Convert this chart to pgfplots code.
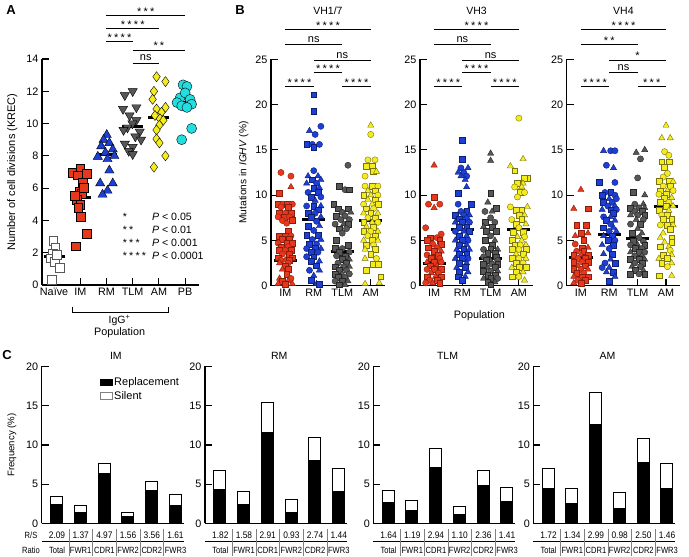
\documentclass[border=0pt]{standalone}
\usepackage{pgfplots}
\pgfplotsset{compat=1.18}
\usepackage{fontspec}
\setmainfont{Liberation Sans}
\newfontfamily\narrowA[FakeStretch=0.88]{Liberation Sans}
\newfontfamily\narrowB[FakeStretch=0.84]{Liberation Sans}
\definecolor{cRed}{HTML}{E8381C}
\definecolor{cRedD}{HTML}{8A1E0E}
\definecolor{cBlue}{HTML}{1E3FD6}
\definecolor{cBlueD}{HTML}{0E1F70}
\definecolor{cGray}{HTML}{575757}
\definecolor{cGrayD}{HTML}{262626}
\definecolor{cYel}{HTML}{F5EC1E}
\definecolor{cYelD}{HTML}{7A7410}
\definecolor{cCyan}{HTML}{22DEE0}
\newcommand\sg{\hspace{2.2pt}}
\newcommand\stars[1]{\ifcase#1\or *\or *\sg*\or *\sg*\sg*\or *\sg*\sg*\sg*\fi}
\pgfplotsset{
  base/.style={scale only axis, axis lines*=left, axis line style={line width=1.1pt,-},
    major tick style={line width=1.1pt,black}, tick align=inside, major tick length=7pt,
    clip=false, tick label style={font=\fontsize{10.8}{12}\selectfont},
    label style={font=\fontsize{10.5}{12}\selectfont},
    /pgf/number format/assume math mode=true},
  grp/.style n args={2}{only marks, scatter, scatter src=explicit symbolic,
    scatter/classes={
      s={mark=square*, mark size=2.9pt, fill=#1, draw=#2, line width=0.4pt},
      c={mark=*, mark size=3.1pt, fill=#1, draw=#2, line width=0.4pt},
      t={mark=triangle*, mark size=3.6pt, fill=#1, draw=#2, line width=0.4pt}}},
  med/.style={black, line width=3pt, no marks},
}
% significance line: from, to, y, text, yshift
\newcommand\sigl[5]{\draw[line width=0.9pt] (axis cs:#1,#3) -- (axis cs:#2,#3);
  \node[anchor=base, inner sep=0pt, font=\fontsize{11}{12}\selectfont, yshift=#5] at (axis cs:{(#1+#2)/2},#3) {#4};}
\newcommand\pleg[3]{%
  \node[anchor=west, inner sep=0pt, font=\fontsize{10.6}{12}\selectfont] at (axis cs:2.62,#1) {\stars#2};
  \node[anchor=west, inner sep=0pt, font=\fontsize{10.6}{12}\selectfont] at (axis cs:3.73,#1) {\textit{P} < #3};}
\newcommand\rstable[7]{%
  \draw[line width=0.6pt] (#1pt,15.3pt) -- ++(142pt,0pt);
  \foreach \v [count=\k from 0] in {#2,#3,#4,#5,#6,#7} {
    \node[font=\narrowA\fontsize{9.5}{10}\selectfont, inner sep=0pt] at ({#1pt+15.3pt+\k*23.7pt},21.7pt) {\v};}
  \foreach \v [count=\k from 0] in {Total,FWR1,CDR1,FWR2,CDR2,FWR3} {
    \node[font=\narrowB\fontsize{9}{10}\selectfont, inner sep=0pt] at ({#1pt+15.3pt+\k*23.7pt},7pt) {\v};}
  \foreach \k in {0,...,4} {
    \draw[gray, line width=0.5pt] ({#1pt+15.3pt+(\k+0.5)*23.7pt},1pt) -- ++(0pt,27pt);}
}
\begin{document}
\begin{tikzpicture}
\path[use as bounding box] (0pt,0pt) rectangle (689pt,557pt);
\node[font=\bfseries\fontsize{13}{14}\selectfont] at (11pt,547pt) {A};
\node[font=\bfseries\fontsize{13}{14}\selectfont] at (240pt,547pt) {B};
\node[font=\bfseries\fontsize{13}{14}\selectfont] at (7pt,202pt) {C};

%%%%%%%%%%%%%%%% PANEL A
\begin{axis}[base, at={(42pt,272pt)}, anchor=south west, width=157pt, height=226pt,
  xmin=-0.46, xmax=5.53, ymin=0, ymax=14, ytick={0,2,...,14}, xtick={0,...,5},
  xticklabels={Naïve,IM,RM,TLM,AM,PB},
  ylabel={Number of cell divisions (KREC)},
  ylabel style={at={(axis description cs:-0.19,0.5)}, anchor=center, font=\fontsize{11}{12}\selectfont}]
\addplot[only marks, mark=square*, mark size=4.4pt, mark options={fill=white, draw=gray!70!black, line width=0.6pt}]
  coordinates {(-0.03,2.75)(0.05,2.3)(-0.05,1.95)(-0.12,1.65)(0.02,1.45)(0.22,1.05)(-0.1,0.3)(0.1,1.85)};
\addplot[only marks, mark=square*, mark size=4.4pt, mark options={fill=cRed, draw=black, line width=0.4pt}]
  coordinates {(0.7,6.95)(1.0,7.2)(1.25,6.9)(0.9,6.8)(1.08,6.35)(0.97,5.8)(1.06,5.65)(0.85,5.3)(1.0,4.95)(0.92,4.8)(1.02,4.25)(1.25,3.2)(0.82,2.4)(1.12,6.05)(0.8,5.55)};
\addplot[only marks, mark=triangle*, mark size=5.3pt, mark options={fill=cBlue, draw=black, line width=0.4pt}]
  coordinates {(2.01,9.3)(1.89,9.0)(2.11,8.8)(1.8,8.6)(2.24,8.4)(1.96,8.2)(1.67,7.95)(2.3,8.0)(2.04,7.8)(2.11,7.1)(1.76,6.3)(2.24,6.3)(2.04,5.85)(1.85,5.6)};
\addplot[only marks, mark=triangle*, mark size=5.3pt, mark options={fill=cGray, draw=black, line width=0.4pt, rotate=180}]
  coordinates {(3.0,12.0)(2.7,11.75)(3.14,11.0)(2.63,10.9)(2.88,10.5)(3.14,10.2)(2.99,10.0)(2.8,9.75)(3.27,9.5)(2.65,9.6)(3.1,9.2)(3.32,9.0)(2.7,8.75)(3.0,8.55)(2.85,8.3)(3.0,8.1)};
\addplot[only marks, mark=diamond*, mark size=5pt, mark options={fill=cYel, draw=black, line width=0.4pt}]
  coordinates {(3.91,12.9)(4.25,12.6)(3.81,12.0)(3.76,11.5)(4.25,11.0)(3.91,10.9)(4.1,10.7)(3.85,10.5)(4.04,10.3)(4.17,10.2)(4.02,9.9)(3.91,9.6)(3.91,9.05)(4.02,8.8)(4.25,8.0)(3.81,7.3)};
\addplot[only marks, mark=*, mark size=5pt, mark options={fill=cCyan, draw=black, line width=0.4pt}]
  coordinates {(4.92,12.4)(5.07,12.3)(4.81,11.6)(5.0,11.9)(5.19,11.5)(4.69,11.3)(4.87,11.1)(5.25,11.2)(5.07,11.0)(5.25,9.7)(4.87,9.0)};
\addplot[med] coordinates {(-0.4,1.75)(0.4,1.75)};
\addplot[med] coordinates {(0.6,5.4)(1.4,5.4)};
\addplot[med] coordinates {(1.6,8.1)(2.4,8.1)};
\addplot[med] coordinates {(2.6,9.8)(3.4,9.8)};
\addplot[med] coordinates {(3.6,10.4)(4.4,10.4)};
\addplot[med] coordinates {(4.6,11.3)(5.4,11.3)};
\sigl{2}{5}{16.69}{\stars3}{0.3pt}
\sigl{2}{4}{15.9}{\stars4}{0.3pt}
\sigl{2}{3}{15.07}{\stars4}{0.3pt}
\sigl{3}{5}{14.56}{\stars2}{0.3pt}
\sigl{3}{4}{13.74}{ns}{2.2pt}
\draw[line width=0.9pt] (axis cs:0.71,-1.34) -- (axis cs:0.71,-1.72) -- (axis cs:4.36,-1.72) -- (axis cs:4.36,-1.34);
\node[font=\fontsize{10.5}{11}\selectfont] at (axis cs:2.5,-2.2) {IgG\textsuperscript{+}};
\node[font=\fontsize{10.8}{11}\selectfont] at (axis cs:2.5,-2.95) {Population};
\pleg{4.2}{1}{0.05}
\pleg{3.4}{2}{0.01}
\pleg{2.6}{3}{0.001}
\pleg{1.8}{4}{0.0001}
\end{axis}

%%%%%%%%%%%%%%%% PANEL B: VH1/7
\begin{axis}[base, at={(271pt,271.3pt)}, anchor=south west, width=114pt, height=226.4pt,
  xmin=-0.5, xmax=3.5, ymin=0, ymax=25, ytick={0,5,...,25}, xtick={0,...,3},
  xticklabels={IM,RM,TLM,AM},
  ylabel={Mutations in \textit{IGHV} (\%)},
  ylabel style={at={(axis description cs:-0.24,0.5)}, anchor=center, font=\fontsize{10.2}{12}\selectfont}]
\addplot[grp={cRed}{cRedD}] table[x expr=\thisrow{d}+0, y=v, meta=m, row sep=\\] {
d v m\\ -0.15 12.5 c\\ 0.2 12.1 c\\ 0.2 10.9 t\\ -0.2 10.2 s\\ -0.25 9.0 s\\ -0.08 9.0 c\\ 0.08 9.0 s\\ 0.25 9.0 c\\
-0.15 8.7 c\\ 0.1 8.7 s\\ -0.2 8.0 s\\ 0.0 8.0 c\\ 0.2 8.0 s\\ -0.25 7.6 c\\ -0.05 7.6 s\\ 0.15 7.6 c\\ 0.25 7.2 s\\ -0.1 7.2 c\\
0.05 6.9 c\\ 0.1 6.0 s\\ -0.2 5.5 s\\ 0.0 5.5 s\\ 0.2 5.5 c\\ -0.1 5.1 s\\ 0.15 5.1 s\\ -0.25 4.7 c\\ 0.05 4.7 s\\ 0.25 4.7 s\\
-0.15 4.3 s\\ 0.1 4.3 c\\ -0.2 3.9 s\\ 0.0 3.9 c\\ 0.2 3.9 s\\ -0.1 3.5 c\\ 0.15 3.5 s\\ -0.25 3.1 s\\ 0.25 3.1 s\\ -0.15 2.8 c\\
0.0 2.8 t\\ 0.15 2.8 s\\ -0.2 2.5 t\\ 0.1 2.5 c\\ 0.0 2.2 s\\ -0.1 1.8 t\\ 0.1 1.8 s\\ 0.05 1.3 s\\ -0.2 0.8 t\\ 0.2 0.8 c\\
-0.1 0.5 s\\ 0.1 0.5 t\\ -0.25 0.2 t\\ 0.0 0.2 s\\ 0.25 0.2 t\\
};
\addplot[grp={cBlue}{cBlueD}] table[x expr=\thisrow{d}+1, y=v, meta=m, row sep=\\] {
d v m\\ 0.0 21.1 s\\ 0.0 19.3 s\\ 0.25 17.6 c\\ -0.15 17.1 t\\ 0.05 16.7 c\\ -0.25 15.6 s\\ -0.05 15.6 c\\ 0.2 15.6 c\\ 0.0 15.3 s\\
0.0 12.7 c\\ -0.2 12.1 t\\ 0.15 12.1 t\\ -0.05 11.7 s\\ 0.25 11.7 t\\ -0.25 11.3 t\\ 0.1 11.3 c\\ 0.0 10.8 s\\ 0.2 10.8 t\\
-0.2 10.3 c\\ 0.15 10.3 s\\ -0.1 9.8 s\\ 0.25 9.8 c\\ 0.05 9.4 t\\ -0.25 8.8 c\\ 0.0 8.8 s\\ 0.25 8.8 t\\ 0.15 8.4 s\\
-0.2 8.0 s\\ 0.05 8.0 c\\ 0.25 7.6 t\\ -0.1 7.6 s\\ 0.1 7.1 c\\ -0.2 6.6 s\\ 0.2 6.6 t\\ 0.0 6.1 c\\ -0.25 5.6 s\\ 0.15 5.6 s\\
-0.05 5.1 c\\ 0.25 5.1 t\\ -0.15 4.6 s\\ 0.1 4.6 c\\ -0.25 4.1 c\\ 0.05 4.1 s\\ 0.25 4.1 t\\ -0.1 3.7 s\\ 0.15 3.7 c\\
0.0 3.2 s\\ -0.25 3.2 c\\ 0.2 2.7 t\\ -0.1 2.7 s\\ 0.1 2.2 s\\ -0.15 1.7 c\\ 0.2 1.7 t\\ 0.0 1.1 t\\ -0.1 0.6 s\\ 0.1 0.2 t\\ 0.2 0.2 s\\
};
\addplot[grp={cGray}{cGrayD}] table[x expr=\thisrow{d}+2, y=v, meta=m, row sep=\\] {
d v m\\ 0.2 13.3 c\\ -0.1 11.0 s\\ 0.1 10.6 c\\ 0.25 10.6 s\\ -0.3 9.0 s\\ -0.15 8.5 s\\ 0.2 8.5 s\\ 0.0 8.1 c\\ 0.3 8.1 t\\
-0.2 7.7 s\\ 0.1 7.7 c\\ 0.25 7.3 c\\ -0.05 7.3 c\\ -0.25 6.8 c\\ 0.05 6.8 t\\ 0.2 6.8 s\\ -0.1 6.3 s\\ 0.15 6.3 c\\ 0.0 5.8 c\\
-0.2 5.0 s\\ 0.2 4.5 s\\ 0.0 4.1 c\\ -0.25 4.1 s\\ 0.25 3.7 c\\ -0.1 3.7 s\\ 0.1 3.3 s\\ -0.2 3.3 c\\ 0.0 2.9 s\\ 0.25 2.9 t\\
-0.15 2.5 c\\ 0.15 2.5 s\\ -0.25 2.1 s\\ 0.05 2.1 c\\ 0.25 2.1 t\\ -0.1 1.7 s\\ 0.15 1.7 c\\ 0.0 1.3 t\\ -0.25 1.3 s\\ 0.25 1.3 c\\
-0.15 0.9 s\\ 0.1 0.9 c\\ -0.25 0.5 c\\ 0.0 0.5 s\\ 0.2 0.5 t\\ -0.1 0.1 s\\ 0.1 0.1 t\\
};
\addplot[grp={cYel}{cYelD}] table[x expr=\thisrow{d}+3, y=v, meta=m, row sep=\\] {
d v m\\ 0.0 17.7 t\\ 0.0 16.7 c\\ -0.1 13.9 c\\ 0.15 13.9 c\\ -0.15 13.2 s\\ 0.05 13.2 s\\ 0.1 12.6 s\\ 0.2 12.6 t\\ -0.2 12.1 c\\
-0.2 11.0 c\\ 0.05 11.0 s\\ 0.25 11.0 c\\ -0.1 10.5 t\\ 0.15 10.5 s\\ -0.25 10.0 s\\ 0.0 10.0 t\\ 0.25 10.0 c\\ -0.1 9.5 t\\ 0.15 9.5 s\\
-0.25 9.0 c\\ 0.05 9.0 t\\ 0.25 9.0 s\\ -0.15 8.5 s\\ 0.1 8.5 c\\ -0.25 8.0 t\\ 0.0 8.0 s\\ 0.25 8.0 t\\ -0.1 7.5 c\\ 0.15 7.5 s\\
-0.25 7.0 s\\ 0.05 7.0 t\\ 0.25 7.0 c\\ -0.15 6.5 t\\ 0.1 6.5 s\\ -0.25 6.0 s\\ 0.0 6.0 c\\ 0.25 6.0 t\\ -0.1 5.5 c\\ 0.15 5.5 s\\
-0.25 5.0 t\\ 0.05 5.0 s\\ 0.25 5.0 t\\ -0.15 4.5 s\\ 0.1 4.5 c\\ -0.2 4.0 t\\ 0.15 4.0 s\\ 0.0 3.5 s\\ -0.2 3.0 t\\ 0.2 3.0 c\\
0.1 2.4 s\\ 0.25 2.4 s\\ -0.15 1.7 s\\ 0.35 1.0 s\\ -0.2 0.2 t\\ 0.3 0.3 t\\
};
\addplot[med] coordinates {(-0.41,2.83)(0.41,2.83)};
\addplot[med] coordinates {(0.59,7.35)(1.41,7.35)};
\addplot[med] coordinates {(1.59,3.79)(2.41,3.79)};
\addplot[med] coordinates {(2.59,7.17)(3.41,7.17)};
\sigl{0}{3}{28.3}{\stars4}{0.3pt}
\sigl{0}{2}{26.6}{ns}{2.2pt}
\sigl{1}{3}{24.9}{ns}{2.2pt}
\sigl{1}{2}{23.5}{\stars4}{0.3pt}
\sigl{0}{1}{22.0}{\stars4}{0.3pt}
\sigl{2}{3}{22.0}{\stars4}{0.3pt}
\node[font=\fontsize{10.5}{12}\selectfont] at (axis cs:1.5,30.4) {VH1/7};
\end{axis}

%%%%%%%%%%%%%%%% PANEL B: VH3
\begin{axis}[base, at={(420pt,271.3pt)}, anchor=south west, width=113pt, height=226.4pt,
  xmin=-0.5, xmax=3.5, ymin=0, ymax=25, ytick={0,5,...,25}, xtick={0,...,3},
  xticklabels={IM,RM,TLM,AM}]
\addplot[grp={cRed}{cRedD}] table[x expr=\thisrow{d}+0, y=v, meta=m, row sep=\\] {
d v m\\ 0.0 13.3 t\\ 0.0 9.8 s\\ -0.2 9.0 c\\ 0.2 9.0 c\\ 0.0 8.6 t\\ -0.3 6.4 c\\ 0.25 5.7 c\\ -0.15 5.3 s\\ 0.1 5.3 c\\
-0.25 5.0 s\\ 0.2 5.0 s\\ -0.05 4.6 c\\ 0.25 4.6 s\\ -0.2 4.2 s\\ 0.1 4.2 c\\ 0.0 3.8 s\\ 0.25 3.8 t\\ -0.25 3.4 c\\ 0.15 3.4 s\\
-0.1 3.0 s\\ 0.2 3.0 c\\ -0.25 2.6 t\\ 0.0 2.6 s\\ 0.25 2.6 c\\ -0.15 2.2 s\\ 0.1 2.2 t\\ -0.25 1.8 c\\ 0.0 1.8 s\\ 0.25 1.8 s\\
-0.1 1.4 t\\ 0.15 1.4 c\\ -0.25 1.0 s\\ 0.05 1.0 t\\ 0.25 1.0 s\\ -0.15 0.6 c\\ 0.1 0.6 s\\ -0.05 0.3 t\\ 0.2 0.3 s\\ -0.3 0.3 c\\
};
\addplot[grp={cBlue}{cBlueD}] table[x expr=\thisrow{d}+1, y=v, meta=m, row sep=\\] {
d v m\\ 0.0 16.1 s\\ 0.0 14.0 s\\ -0.05 13.0 c\\ 0.2 13.0 t\\ 0.05 12.5 c\\ -0.15 12.5 t\\ 0.15 12.1 c\\ -0.05 12.1 t\\ 0.1 11.7 t\\
0.15 10.9 t\\ -0.15 10.2 s\\ -0.15 9.0 c\\ 0.3 9.0 s\\ -0.05 8.2 c\\ 0.15 8.2 s\\ -0.25 7.8 s\\ 0.05 7.8 c\\ 0.25 7.8 t\\
-0.1 7.4 s\\ 0.15 7.4 c\\ -0.25 7.0 t\\ 0.0 7.0 s\\ 0.25 7.0 c\\ -0.1 6.5 s\\ 0.15 6.5 s\\ -0.25 6.0 c\\ 0.05 6.0 t\\ 0.25 6.0 s\\
-0.1 5.5 s\\ 0.15 5.5 t\\ -0.25 5.0 t\\ 0.0 5.0 s\\ 0.2 5.0 c\\ -0.1 4.5 s\\ 0.15 4.5 t\\ -0.2 4.0 t\\ 0.05 4.0 s\\ 0.25 4.0 t\\
-0.1 3.5 s\\ 0.15 3.5 s\\ -0.25 3.0 t\\ 0.0 3.0 s\\ 0.2 3.0 c\\ -0.1 2.5 s\\ 0.15 2.5 t\\ 0.1 2.0 s\\ -0.2 2.0 t\\ 0.2 1.5 t\\
-0.1 1.5 s\\ -0.15 1.0 s\\ 0.1 1.0 t\\ 0.0 0.6 s\\
};
\addplot[grp={cGray}{cGrayD}] table[x expr=\thisrow{d}+2, y=v, meta=m, row sep=\\] {
d v m\\ 0.0 14.6 t\\ 0.0 13.8 t\\ 0.0 10.2 s\\ -0.1 9.2 t\\ 0.2 8.6 s\\ -0.2 8.2 c\\ 0.05 8.2 t\\ 0.0 7.5 c\\ -0.2 7.0 s\\ 0.15 7.0 c\\
0.05 6.5 s\\ -0.25 6.5 t\\ -0.15 6.0 s\\ 0.2 6.0 s\\ 0.0 5.5 c\\ -0.2 5.0 s\\ 0.15 5.0 t\\ 0.05 4.5 s\\ -0.25 4.0 c\\ 0.0 4.0 s\\
0.25 4.0 t\\ -0.1 3.6 s\\ 0.15 3.6 s\\ -0.25 3.2 c\\ 0.2 3.2 s\\ 0.0 2.8 t\\ -0.15 2.8 s\\ 0.25 2.8 c\\ -0.25 2.4 s\\ 0.05 2.4 c\\
0.25 2.4 s\\ -0.1 2.0 t\\ 0.15 2.0 s\\ -0.25 1.6 s\\ 0.0 1.6 c\\ 0.25 1.6 t\\ -0.1 1.2 s\\ 0.15 1.2 s\\ -0.25 0.8 t\\ 0.0 0.8 s\\
0.25 0.8 c\\ -0.1 0.4 s\\ 0.15 0.4 t\\ 0.0 0.1 s\\
};
\addplot[grp={cYel}{cYelD}] table[x expr=\thisrow{d}+3, y=v, meta=m, row sep=\\] {
d v m\\ 0.0 18.5 c\\ 0.15 14.0 t\\ -0.3 13.2 t\\ -0.15 12.7 s\\ 0.3 11.9 s\\ 0.2 11.9 s\\ -0.05 11.3 s\\ 0.15 11.3 t\\ 0.1 10.9 t\\
-0.15 10.9 c\\ 0.05 10.3 s\\ 0.2 10.3 c\\ -0.05 9.8 c\\ -0.3 8.7 c\\ 0.3 8.7 t\\ 0.1 8.3 s\\ -0.1 8.3 s\\ 0.0 7.8 s\\ 0.2 7.8 t\\
-0.25 7.3 c\\ 0.1 7.3 s\\ -0.1 6.8 s\\ 0.25 6.8 t\\ 0.0 6.4 c\\ -0.2 5.9 s\\ 0.15 5.9 s\\ -0.05 5.4 t\\ 0.2 5.4 c\\ -0.25 5.0 s\\
0.1 5.0 t\\ 0.05 4.5 c\\ -0.15 4.5 s\\ 0.25 4.5 t\\ -0.25 4.0 s\\ 0.0 4.0 c\\ 0.25 4.0 s\\ -0.1 3.5 t\\ 0.15 3.5 s\\ -0.25 3.0 s\\
0.0 3.0 c\\ 0.25 3.0 t\\ -0.1 2.5 s\\ 0.15 2.5 c\\ -0.25 2.0 t\\ 0.0 2.0 s\\ 0.25 2.0 s\\ -0.1 1.5 s\\ 0.15 1.5 t\\ 0.0 1.0 c\\
-0.25 1.0 s\\ 0.2 0.6 t\\
};
\addplot[med] coordinates {(-0.41,2.46)(0.41,2.46)};
\addplot[med] coordinates {(0.59,6.2)(1.41,6.2)};
\addplot[med] coordinates {(1.59,3.0)(2.41,3.0)};
\addplot[med] coordinates {(2.59,6.25)(3.41,6.25)};
\sigl{0}{3}{28.3}{\stars4}{0.3pt}
\sigl{0}{2}{26.6}{ns}{2.2pt}
\sigl{1}{3}{24.9}{ns}{2.2pt}
\sigl{1}{2}{23.5}{\stars4}{0.3pt}
\sigl{0}{1}{22.0}{\stars4}{0.3pt}
\sigl{2}{3}{22.0}{\stars4}{0.3pt}
\node[font=\fontsize{10.5}{12}\selectfont] at (axis cs:1.5,30.4) {VH3};
\node[font=\fontsize{10.8}{12}\selectfont] at (axis cs:1.6,-3.34) {Population};
\end{axis}

%%%%%%%%%%%%%%%% PANEL B: VH4
\begin{axis}[base, at={(566.7pt,271.3pt)}, anchor=south west, width=113.5pt, height=226.4pt,
  xmin=-0.5, xmax=3.5, ymin=0, ymax=25, ytick={0,5,...,25}, xtick={0,...,3},
  xticklabels={IM,RM,TLM,AM}]
\addplot[grp={cRed}{cRedD}] table[x expr=\thisrow{d}+0, y=v, meta=m, row sep=\\] {
d v m\\ 0.0 10.6 t\\ -0.25 8.5 t\\ 0.25 8.5 s\\ -0.15 6.7 s\\ 0.2 6.7 s\\ 0.25 5.8 t\\ 0.0 5.8 s\\ -0.2 5.5 t\\ 0.1 5.0 s\\
-0.2 4.6 c\\ 0.05 4.2 s\\ 0.25 4.2 t\\ -0.15 3.8 c\\ 0.1 3.8 s\\ -0.25 3.4 s\\ 0.0 3.4 t\\ 0.25 3.4 s\\ -0.1 3.0 c\\ 0.15 3.0 s\\
-0.25 2.6 s\\ 0.05 2.6 c\\ 0.25 2.6 s\\ -0.1 2.2 t\\ 0.15 2.2 s\\ -0.25 1.8 s\\ 0.0 1.8 c\\ 0.25 1.8 t\\ -0.15 1.4 s\\ 0.1 1.4 c\\
-0.25 1.0 t\\ 0.05 1.0 s\\ 0.25 1.0 s\\ -0.1 0.6 c\\ 0.15 0.6 s\\ 0.0 0.3 s\\ -0.25 0.3 t\\
};
\addplot[grp={cBlue}{cBlueD}] table[x expr=\thisrow{d}+1, y=v, meta=m, row sep=\\] {
d v m\\ -0.2 14.9 t\\ 0.05 14.9 c\\ 0.2 14.9 c\\ -0.1 13.3 c\\ 0.15 13.0 t\\ -0.35 11.4 s\\ 0.2 11.4 c\\ -0.15 10.3 c\\ 0.05 10.3 s\\
0.2 10.0 c\\ -0.25 10.0 s\\ 0.0 9.6 t\\ 0.25 9.6 c\\ -0.2 9.2 s\\ 0.1 9.2 c\\ -0.05 8.8 c\\ 0.2 8.8 t\\ -0.25 8.4 t\\ 0.05 8.4 s\\
0.25 8.4 c\\ 0.15 8.0 s\\ -0.2 7.6 c\\ 0.05 7.6 t\\ 0.2 7.2 t\\ -0.1 7.2 s\\ 0.05 6.8 c\\ -0.2 6.4 s\\ 0.15 6.4 t\\ 0.0 6.0 c\\
0.25 6.0 t\\ -0.2 5.5 t\\ 0.1 5.5 s\\ -0.05 5.0 s\\ 0.2 5.0 c\\ -0.25 4.5 t\\ 0.15 4.5 s\\ 0.0 4.1 c\\ -0.2 3.5 t\\ 0.1 3.5 s\\
0.05 2.9 t\\ -0.15 2.5 c\\ 0.2 2.5 s\\ 0.0 2.0 t\\ -0.25 2.0 c\\ 0.15 1.5 s\\ -0.1 1.5 t\\ 0.2 1.0 t\\ 0.0 0.5 s\\
};
\addplot[grp={cGray}{cGrayD}] table[x expr=\thisrow{d}+2, y=v, meta=m, row sep=\\] {
d v m\\ 0.25 15.0 t\\ -0.05 14.7 t\\ 0.1 14.0 c\\ 0.0 11.9 c\\ -0.15 10.3 s\\ 0.25 10.0 t\\ -0.1 9.0 c\\ 0.2 9.0 t\\ -0.25 8.6 s\\
0.05 8.6 c\\ 0.25 8.6 t\\ -0.1 8.2 c\\ 0.15 8.2 s\\ -0.25 7.8 t\\ 0.0 7.8 c\\ 0.25 7.8 s\\ -0.05 7.3 t\\ 0.2 7.3 c\\ -0.25 6.8 c\\
0.1 6.8 s\\ 0.0 6.3 t\\ -0.2 5.8 s\\ 0.15 5.8 t\\ 0.05 5.3 c\\ -0.15 4.9 s\\ 0.2 4.9 c\\ -0.25 4.5 c\\ 0.0 4.5 t\\ 0.25 4.5 s\\
-0.1 4.1 s\\ 0.15 4.1 c\\ -0.25 3.7 t\\ 0.05 3.7 s\\ 0.25 3.7 c\\ -0.1 3.3 c\\ 0.15 3.3 t\\ -0.25 2.9 s\\ 0.05 2.9 s\\ 0.25 2.9 t\\
-0.1 2.5 c\\ 0.15 2.5 s\\ -0.2 2.1 t\\ 0.1 2.1 c\\ -0.1 1.7 s\\ 0.2 1.7 t\\ -0.25 1.3 s\\ 0.05 1.3 c\\ 0.25 1.3 s\\
};
\addplot[grp={cYel}{cYelD}] table[x expr=\thisrow{d}+3, y=v, meta=m, row sep=\\] {
d v m\\ 0.0 17.7 t\\ -0.15 16.3 t\\ 0.15 16.3 t\\ -0.05 14.8 c\\ 0.1 14.4 c\\ -0.15 13.7 s\\ 0.1 13.7 s\\ -0.05 13.1 s\\ 0.05 12.4 c\\
-0.1 12.0 c\\ -0.25 11.5 s\\ 0.1 11.5 s\\ 0.25 11.5 t\\ -0.1 11.0 c\\ 0.15 11.0 s\\ -0.2 10.5 s\\ 0.05 10.5 t\\ 0.25 10.5 c\\
0.0 10.1 s\\ -0.25 10.1 c\\ 0.2 9.7 t\\ -0.05 9.7 s\\ -0.2 9.2 s\\ 0.1 9.2 c\\ 0.25 8.8 t\\ 0.0 8.8 s\\ -0.25 8.3 s\\ 0.1 8.3 t\\
0.05 7.8 s\\ -0.15 7.8 c\\ -0.1 7.3 s\\ 0.2 7.3 s\\ -0.2 6.7 c\\ 0.05 6.7 s\\ 0.25 6.7 t\\ 0.15 6.2 s\\ -0.1 5.8 t\\ 0.2 5.3 s\\
-0.2 5.3 t\\ -0.05 4.8 t\\ 0.2 4.8 s\\ -0.2 4.3 s\\ 0.1 4.3 t\\ 0.15 3.9 c\\ -0.1 3.4 s\\ 0.2 3.4 t\\ -0.25 3.0 t\\ 0.05 3.0 s\\
-0.15 2.5 s\\ 0.2 2.5 t\\ 0.05 2.1 c\\ -0.25 1.1 s\\ 0.2 1.1 t\\
};
\addplot[med] coordinates {(-0.41,3.09)(0.41,3.09)};
\addplot[med] coordinates {(0.59,5.66)(1.41,5.66)};
\addplot[med] coordinates {(1.59,5.18)(2.41,5.18)};
\addplot[med] coordinates {(2.59,8.75)(3.41,8.75)};
\sigl{0}{3}{28.3}{\stars4}{0.3pt}
\sigl{0}{2}{26.6}{\stars2}{0.3pt}
\sigl{1}{3}{24.9}{\stars1}{0.3pt}
\sigl{1}{2}{23.5}{ns}{2.2pt}
\sigl{0}{1}{22.0}{\stars4}{0.3pt}
\sigl{2}{3}{22.0}{\stars3}{0.3pt}
\node[font=\fontsize{10.5}{12}\selectfont] at (axis cs:1.5,30.4) {VH4};
\end{axis}

%%%%%%%%%%%%%%%% PANEL C
\pgfplotsset{cax/.style={base, anchor=south west, width=142pt, height=157pt,
  xmin=-0.63, xmax=5.36, ymin=0, ymax=20, ytick={0,5,...,20}, xtick=\empty},
  wbar/.style={ybar, bar width=12pt, bar shift=0pt, fill=white, draw=black, line width=1pt, forget plot},
  kbar/.style={ybar, bar width=12pt, bar shift=0pt, fill=black, draw=black, line width=1pt, forget plot}}
\begin{axis}[cax, at={(41.7pt,33.5pt)},
  ylabel={Frequency (\%)}, ylabel style={at={(axis description cs:-0.21,0.5)}, anchor=center, font=\fontsize{9.6}{11}\selectfont},
  legend image code/.code={\draw[#1] (0pt,-3.3pt) rectangle (11.5pt,3.3pt);},
  legend style={draw=none, fill=none, at={(rel axis cs:0.41,0.945)}, anchor=north west,
    font=\fontsize{11}{11}\selectfont, inner sep=0pt, row sep=0.5pt, cells={anchor=west}}]
\addplot[wbar] coordinates {(0,3.47)(1,2.33)(2,7.63)(3,1.44)(4,5.38)(5,3.69)};
\addplot[kbar] coordinates {(0,2.40)(1,1.44)(2,6.36)(3,0.93)(4,4.24)(5,2.29)};
\addlegendimage{fill=black, draw=black}
\addlegendentry{Replacement}
\addlegendimage{fill=white, draw=gray, line width=0.6pt}
\addlegendentry{Silent}
\node[font=\fontsize{10.5}{11}\selectfont] at (axis cs:2.5,21.3) {IM};
\end{axis}
\begin{axis}[cax, at={(205pt,33.5pt)}]
\addplot[wbar] coordinates {(0,6.69)(1,4.03)(2,15.47)(3,3.05)(4,10.93)(5,6.99)};
\addplot[kbar] coordinates {(0,4.32)(1,2.46)(2,11.53)(3,1.40)(4,7.97)(5,4.07)};
\node[font=\fontsize{10.5}{11}\selectfont] at (axis cs:2.5,21.3) {RM};
\end{axis}
\begin{axis}[cax, at={(373.3pt,33.5pt)}]
\addplot[wbar] coordinates {(0,4.24)(1,2.92)(2,9.58)(3,2.16)(4,6.74)(5,4.62)};
\addplot[kbar] coordinates {(0,2.71)(1,1.65)(2,7.16)(3,1.14)(4,4.79)(5,2.84)};
\node[font=\fontsize{10.5}{11}\selectfont] at (axis cs:2.5,21.3) {TLM};
\end{axis}
\begin{axis}[cax, at={(533.3pt,33.5pt)}]
\addplot[wbar] coordinates {(0,6.95)(1,4.45)(2,16.69)(3,3.90)(4,10.85)(5,7.58)};
\addplot[kbar] coordinates {(0,4.41)(1,2.54)(2,12.58)(3,1.91)(4,7.71)(5,4.45)};
\node[font=\fontsize{10.5}{11}\selectfont] at (axis cs:2.5,21.3) {AM};
\end{axis}
\rstable{41.7}{2.09}{1.37}{4.97}{1.56}{3.56}{1.61}
\rstable{205}{1.82}{1.58}{2.91}{0.93}{2.74}{1.44}
\rstable{373.3}{1.64}{1.19}{2.94}{1.10}{2.36}{1.41}
\rstable{533.3}{1.72}{1.34}{2.99}{0.98}{2.50}{1.46}
\node[font=\narrowB\fontsize{9}{10}\selectfont] at (31pt,21.7pt) {R/S};
\node[font=\narrowB\fontsize{9}{10}\selectfont] at (31pt,7pt) {Ratio};
\end{tikzpicture}
\end{document}
